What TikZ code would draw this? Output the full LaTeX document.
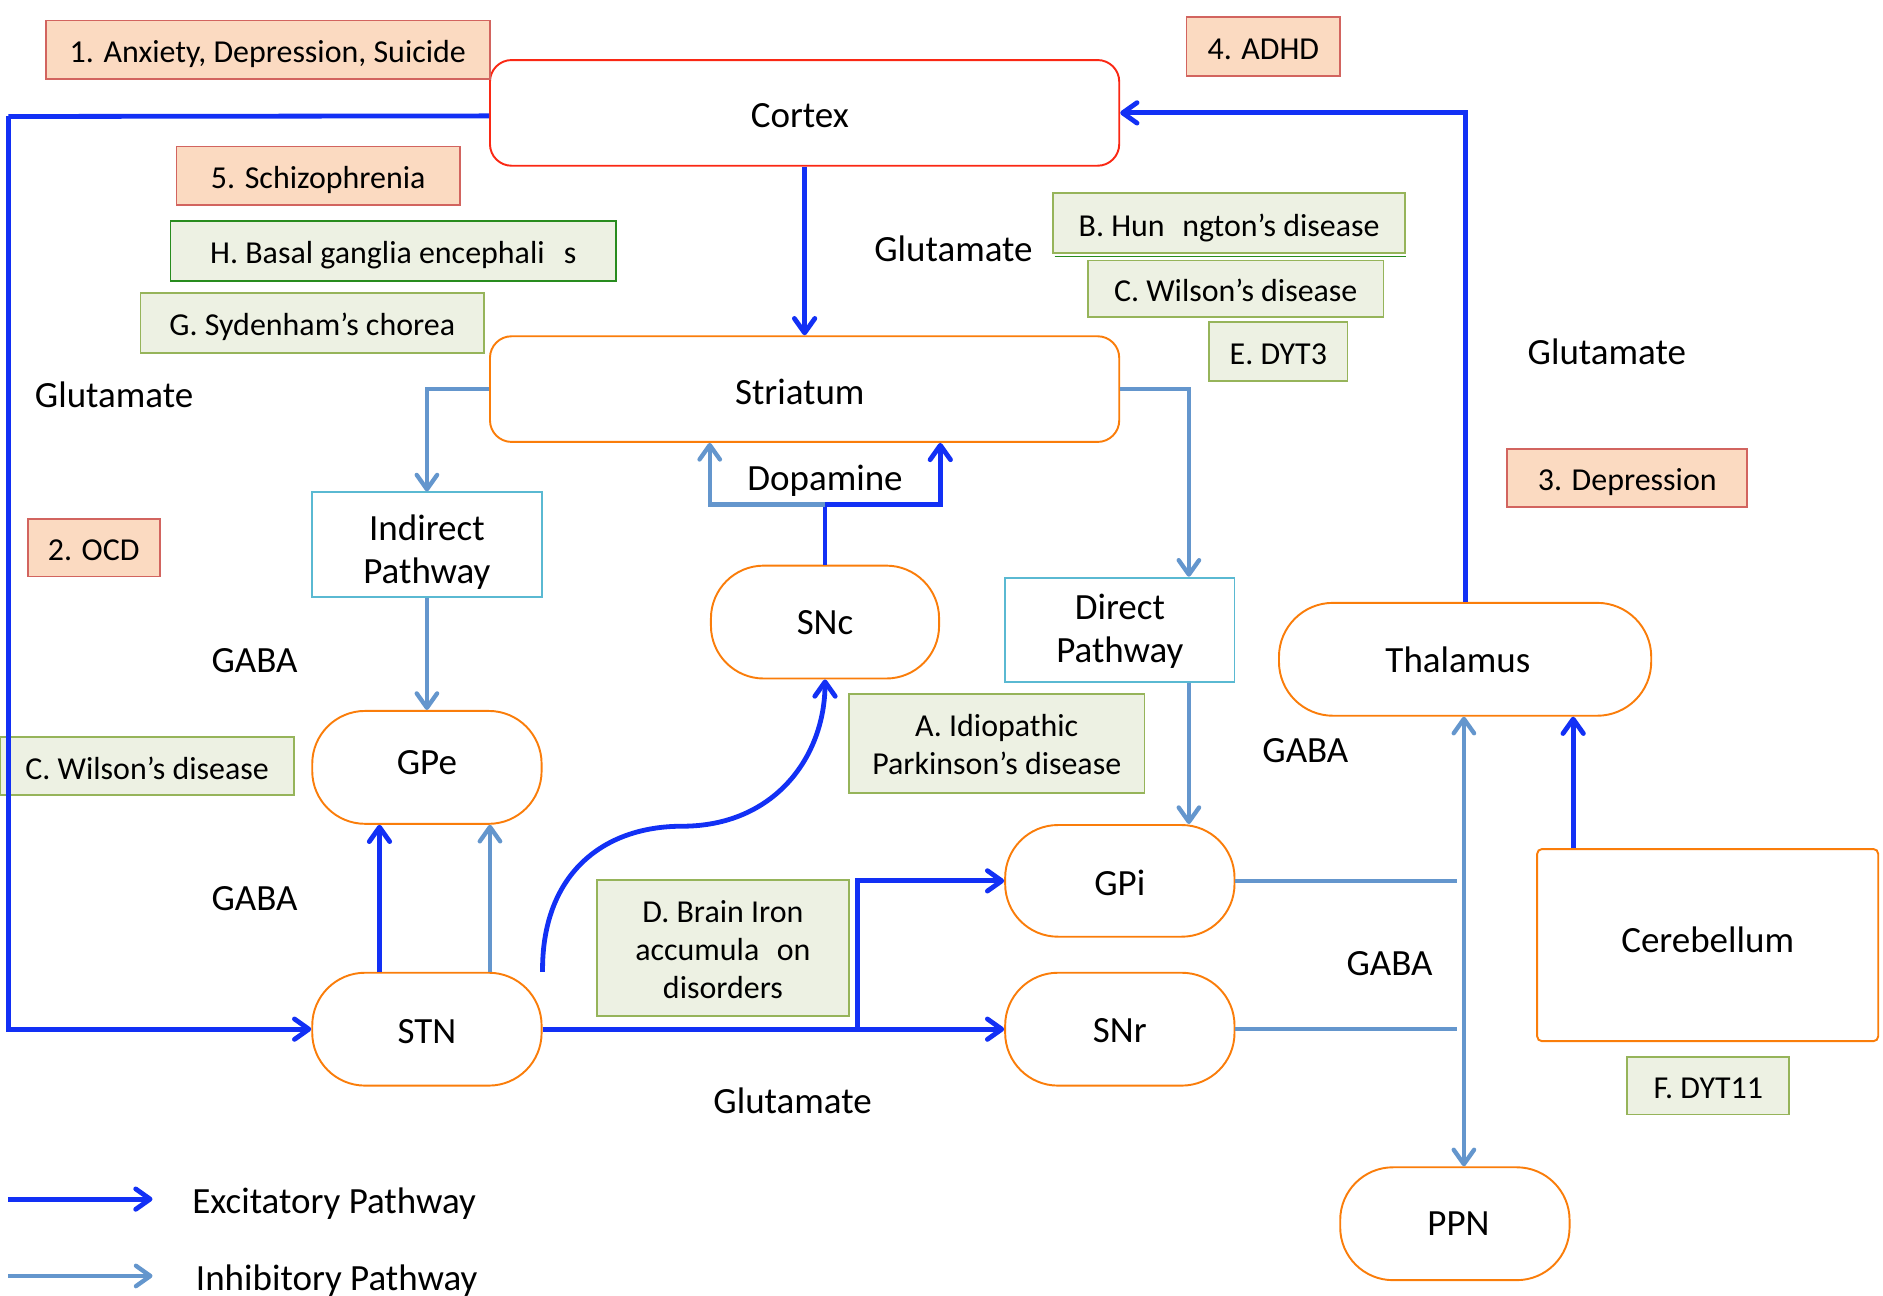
\documentclass[tikz,border=0pt]{standalone}
\usepackage{fontspec}
\setmainfont{Carlito}
\usetikzlibrary{arrows.meta}
\definecolor{excc}{RGB}{18,48,245}
\definecolor{inhc}{RGB}{100,150,205}
\definecolor{orng}{RGB}{250,125,10}
\definecolor{redb}{RGB}{250,40,20}
\definecolor{pinkf}{RGB}{251,218,193}
\definecolor{pinkd}{RGB}{210,100,95}
\definecolor{grnf}{RGB}{237,241,227}
\definecolor{grnd}{RGB}{150,180,90}
\definecolor{grndk}{RGB}{40,140,30}
\definecolor{cyanb}{RGB}{90,185,210}
\newcommand{\mlines}[2]{\raisebox{#1}[\height][\depth]{\begin{tabular}{@{}c@{}}#2\end{tabular}}}
\begin{document}
\begin{tikzpicture}[x=1pt,y=-1pt,
  mainf/.style={font=\fontsize{30.8}{36}\selectfont},
  lblf/.style={font=\fontsize{26.6}{31.5}\selectfont},
  th/.style={text height=#1, text depth=0pt},
  region/.style={draw=orng, line width=1.6pt, fill=white, rounded corners=44pt, minimum width=191pt, minimum height=94pt, inner sep=0pt, mainf, th=22pt},
  bigbox/.style={line width=1.6pt, fill=white, rounded corners=18pt, minimum width=524pt, minimum height=88pt, inner sep=0pt, mainf},
  pathbox/.style={draw=cyanb, line width=1.5pt, fill=white, minimum width=191pt, minimum height=87pt, inner sep=0pt, mainf},
  pinkbox/.style={draw=pinkd, fill=pinkf, line width=1.5pt, inner sep=0pt, lblf, th=21.5pt},
  greenbox/.style={draw=grnd, fill=grnf, line width=1.5pt, inner sep=0pt, lblf, th=21.5pt},
  greenml/.style={draw=grnd, fill=grnf, line width=1.5pt, inner sep=0pt, lblf},
  lbl/.style={inner sep=0pt, mainf},
  excl/.style={draw=excc, line width=4pt, -{Straight Barb[length=12pt,width=17pt,round]}},
  excp/.style={draw=excc, line width=4pt},
  inhl/.style={draw=inhc, line width=3.6pt, -{Straight Barb[length=12pt,width=17pt,round]}},
  inhp/.style={draw=inhc, line width=3.6pt},
  inhb/.style={draw=inhc, line width=3.6pt, {Straight Barb[length=12pt,width=17pt,round]}-{Straight Barb[length=12pt,width=17pt,round]}}
]
\useasboundingbox (0,0) rectangle (1568,1079);

% main nodes
\node[bigbox, draw=redb, th=25pt] (cortex) at (670,94) {Cortex\kern8pt};
\node[bigbox, draw=orng, th=26pt] (striatum) at (670,324) {Striatum\kern8pt};
\node[pathbox] (indirect) at (355.5,453.5) {\mlines{-7pt}{Indirect\\Pathway}};
\node[pathbox] (direct) at (932.5,524.5) {\mlines{-2pt}{Direct\\Pathway}};
\node[region, minimum width=190pt, th=20.6pt] (snc) at (687,518) {SNc};
\node[region, th=12pt] (gpe) at (355.5,639) {GPe};
\node[region, th=23.4pt] (stn) at (355.5,857) {STN};
\node[region, minimum height=93pt, th=24.5pt] (gpi) at (932.5,733.5) {GPi};
\node[region] (snr) at (932.5,857) {SNr};
\node[region, minimum width=310pt, rounded corners=45pt, th=21.6pt] (thal) at (1220,549) {Thalamus\kern12pt};
\node[region, th=19pt] (ppn) at (1211.5,1019) {\kern6pt PPN};
\node[region, minimum width=284pt, minimum height=160pt, rounded corners=4pt, th=13pt] (cereb) at (1422,787) {Cerebellum};

% pink labels
\node[pinkbox, minimum width=370pt, minimum height=49pt] (p1) at (223,41.5) {1. Anxiety, Depression, Suicide};
\node[pinkbox, minimum width=128pt, minimum height=49pt] (p4) at (1052,38.5) {4. ADHD};
\node[pinkbox, minimum width=236pt, minimum height=49pt] (p5) at (265,146.5) {5. Schizophrenia};
\node[pinkbox, minimum width=200pt, minimum height=48pt] (p3) at (1355,398) {3. Depression};
\node[pinkbox, minimum width=110pt, minimum height=48pt] (p2) at (78,456) {2. OCD};

% green labels
\node[greenbox, draw=grndk, minimum width=371pt, minimum height=50pt] (gh) at (327.5,209) {H. Basal ganglia encephali\hspace{0.6em}s};
\node[greenbox, minimum width=286pt, minimum height=50pt] (gg) at (260,269) {G. Sydenham’s chorea};
\node[greenbox, minimum width=293pt, minimum height=50pt] (gb) at (1023.5,186) {B. Hun\hspace{0.55em}ngton’s disease};
\draw[grndk, line width=1.2pt] ([xshift=2pt,yshift=-2pt]gb.south west) -- ([yshift=-2pt]gb.south east);
\node[greenbox, minimum width=246pt, minimum height=47pt] (gc1) at (1029,240.5) {C. Wilson’s disease};
\node[greenbox, minimum width=115pt, minimum height=49pt] (ge) at (1064.5,292.5) {E. DYT3};
\node[greenbox, minimum width=245pt, minimum height=48pt] (gc2) at (122.5,638) {C. Wilson’s disease};
\node[greenml, minimum width=246pt, minimum height=82pt] (ga) at (830,619) {\mlines{-4pt}{A. Idiopathic\\Parkinson’s disease}};
\node[greenml, minimum width=210pt, minimum height=113pt] (gd) at (602,789.5) {\mlines{-4pt}{D. Brain Iron\\accumula\hspace{0.55em}on\\disorders}};
\node[greenbox, minimum width=135pt, minimum height=48pt] (gf) at (1422.5,904) {F. DYT11};

% text labels
\node[lbl] (t1) at (794,207) {Glutamate};
\node[lbl] (t2) at (95,329) {Glutamate};
\node[lbl] (t3) at (1338,293) {Glutamate};
\node[lbl] (t4) at (660,917) {Glutamate};
\node[lbl] (t5) at (212,550) {GABA};
\node[lbl] (t6) at (212,748) {GABA};
\node[lbl] (t7) at (1087,625) {GABA};
\node[lbl] (t8) at (1157,802) {GABA};
\node[lbl] (t9) at (687,400) {Dopamine};

% coordinates
\coordinate (lc) at (7,97);
\coordinate (br) at (714,857);
\coordinate (dp) at (687,420);
\coordinate (cv) at (568,688);
\coordinate (gpiend) at (1213,733.5);
\coordinate (snrend) at (1213,857);

% excitatory connectors
\draw[excp] ([yshift=-2.5pt]cortex.west) -- (lc);
\draw[excl] (lc) |- (stn.west);
\draw[excl] (cortex.south) -- (striatum.north);
\draw[excl] (thal.north) |- (cortex.east);
\draw[excl] (stn.east) -- (snr.west);
\draw[excl] (br) |- (gpi.west);
\draw[excl] ([xshift=-39.5pt]stn.north) -- ([xshift=-39.5pt]gpe.south);
\draw[excl] (stn.north east) .. controls (451,730) and (500,688) .. (cv) .. controls (645,688) and (687,630) .. (snc.south);
\draw[excp] (snc.north) -- (dp);
\draw[excl] (dp) -| ([xshift=113pt]striatum.south);
\draw[excl] ([xshift=-112pt]cereb.north) -- ([xshift=-112pt]cereb.north |- thal.south);

% inhibitory connectors
\draw[inhl] (dp) -| ([xshift=-79pt]striatum.south);
\draw[inhl] (striatum.west) -| (indirect.north);
\draw[inhl] (indirect.south) -- (gpe.north);
\draw[inhl] (striatum.east) -| ([xshift=57.5pt]direct.north);
\draw[inhl] ([xshift=57.5pt]direct.south) -- ([xshift=57.5pt]gpi.north);
\draw[inhl] ([xshift=52.5pt]stn.north) -- ([xshift=52.5pt]gpe.south);
\draw[inhp] (gpi.east) -- (gpiend);
\draw[inhp] (snr.east) -- (snrend);
\draw[inhb] ([xshift=-1pt]thal.south) -- ([xshift=-1pt]thal.south |- ppn.north);

% legend
\coordinate (le1) at (7,998.5);
\coordinate (le2) at (127,998.5);
\coordinate (li1) at (7,1062.5);
\coordinate (li2) at (127,1062.5);
\draw[excl] (le1) -- (le2);
\draw[inhl] (li1) -- (li2);
\node[lbl, anchor=west] (lex) at (160,1002.5) {Excitatory Pathway};
\node[lbl, anchor=west] (lin) at (163,1066) {Inhibitory Pathway};
\end{tikzpicture}
\end{document}
